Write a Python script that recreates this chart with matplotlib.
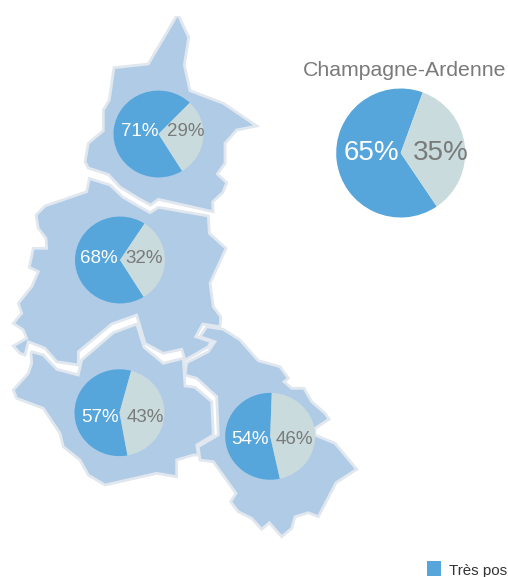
#!/usr/bin/env python
# -*- coding: utf-8 -*-

'''
Champagne-Ardenne map with one pie per departement
'''

import matplotlib
matplotlib.use("Agg")
import matplotlib.pyplot as plt
from matplotlib.patches import Polygon, Rectangle
from matplotlib.transforms import Affine2D

plt.rcParams['font.family'] = ['Liberation Sans', 'DejaVu Sans']

# outlines
ardennes = [(177.7, 14), (188.7, 37.3), (184.3, 65), (190, 90.7), (223.3, 103.3), (256.7, 126),
            (236.7, 130), (225, 143.3), (225, 163.3), (217.3, 174), (226.7, 182.7), (222.7, 192.7),
            (212.7, 201.7), (213, 211.7), (158.3, 199.3), (150.7, 205), (140, 199.3), (120, 187),
            (108.3, 174.5), (88.3, 168), (85, 161.7), (88.3, 143.3), (103.3, 130.7), (103.3, 110),
            (109.3, 100), (114, 67.7), (148.3, 64)]
marne = [(89.3, 178.5), (110, 185), (123.3, 197.5), (150, 212.7), (158.3, 207.3), (208.3, 216),
         (209.3, 233.3), (226, 248.3), (210, 283.3), (213.3, 306.7), (220.7, 316.7), (220, 326.7),
         (202.7, 324), (195.7, 336.7), (211, 341.7), (208.3, 346.7), (185, 360), (181.7, 349.3),
         (163.3, 353.3), (145, 343.3), (136.7, 315), (111.7, 324), (78.3, 351.7), (78.3, 365),
         (56.7, 361.7), (45, 348.3), (28.3, 341.7), (25, 355), (20, 353.3),
         (13.3, 346), (26.7, 338.3), (23.3, 330), (13.3, 323.3), (21.7, 313.3), (18.3, 303.3),
         (31.7, 286.7), (38.3, 271.7), (29.3, 267.3), (33.3, 248.3), (46.7, 248.3), (46, 238.3),
         (38.3, 228.3), (36, 215), (45, 206), (86.7, 191.7)]
aube = [(31.7, 351.7), (43.3, 355), (56.7, 369.3), (78.3, 375), (81.7, 360), (113.3, 332.7),
        (136.7, 324), (144, 347.3), (163.3, 363.3), (183.3, 358.3), (185, 386), (195, 387.3),
        (211.7, 401.7), (213.3, 435), (196.7, 445), (198.3, 455), (193.3, 455), (176.7, 460),
        (176.7, 476.7), (156.7, 473.3), (105, 485), (88.3, 475), (80, 460), (63.3, 446.7),
        (60, 433.3), (43.3, 408.3), (16.7, 398.3), (13.3, 390), (28.3, 373.3), (31.7, 363.3),
        (31, 353)]
haute_marne = [(206.7, 326.7), (223.3, 329.3), (240, 340), (258.3, 360.7), (280, 366.7), (288.3, 378.3),
               (284, 381.7), (291.7, 388.3), (304, 388.3), (311.7, 401.7), (325, 413.3), (329, 419.3),
               (315, 428.3), (315, 435), (335, 443.3), (356.7, 469.3), (336, 482.7), (318.3, 516.7),
               (308.3, 512.7), (295, 516.7), (291.7, 528.3), (281.7, 536.7), (269.3, 522.7),
               (261.7, 529.3), (251.7, 518.3), (238.3, 511.7), (230.7, 501.7), (236, 493.3),
               (213.3, 461.7), (200, 460), (198.3, 446.7), (218.3, 435), (216.7, 396.7), (196.7, 378.3),
               (185, 375), (186.7, 362.7), (208.3, 351.7), (215, 341.7), (200, 336.7)]

# pie values, percent
positive = [71, 68, 57, 54, 65]
negative = [29, 32, 43, 46, 35]

# pie layout, in pixels
start_angles = [46, 57, 75, 88, 70]
centres = [(158.5, 134), (120, 260), (119.5, 412.7), (270.2, 436.3), (400.7, 153)]
radii = [45, 45, 45, 45, 64.5]
squash = [0.965, 0.965, 0.965, 0.965, 1.0]
left_labels = [(139.5, 131.5), (98.5, 258.5), (100, 417.5), (249.5, 439), (371, 153.5)]
right_labels = [(186, 131.5), (144, 258.5), (145.5, 417.5), (294.5, 439), (441, 153.5)]

title = "Champagne-Ardenne"
legend_label = "Très pos"

BLUE = '#56a6dc'
PALE = '#c9dbdd'
GREY = '#7a7a7a'
MAP_FILL = '#b0cbe6'
MAP_EDGE = '#e0e7ef'


def main():
    fig = plt.figure(figsize=(5.08, 5.77), dpi=100)
    ax = fig.add_axes([0, 0, 1, 1])

    clip = Rectangle((0, 16), 508, 561, transform=ax.transData)
    for outline in [ardennes, marne, aube, haute_marne]:
        shape = Polygon(outline, closed=True, facecolor=MAP_FILL, edgecolor=MAP_EDGE,
                        linewidth=2.0, joinstyle='miter', zorder=1)
        ax.add_patch(shape)
        shape.set_clip_path(clip)

    # the y axis runs downwards, so the angles are mirrored
    for i in range(len(positive)):
        wedges, _ = ax.pie([positive[i], negative[i]], colors=[BLUE, PALE], startangle=-start_angles[i],
                           counterclock=False, center=centres[i], radius=radii[i], frame=True,
                           wedgeprops={'linewidth': 0, 'zorder': 3})
        # the small pies are a little flatter than they are wide
        cx, cy = centres[i]
        flatten = Affine2D().translate(-cx, -cy).scale(1, squash[i]).translate(cx, cy)
        for wedge in wedges:
            wedge.set_transform(flatten + ax.transData)
        size = 20 if i == 4 else 13.5
        ax.text(left_labels[i][0], left_labels[i][1], "%d%%" % positive[i], color='white',
                fontsize=size, ha='center', va='center', zorder=4)
        ax.text(right_labels[i][0], right_labels[i][1], "%d%%" % negative[i], color=GREY,
                fontsize=size, ha='center', va='center', zorder=4)

    # pie() changes the aspect, so the pixel frame goes on afterwards
    ax.set_aspect('auto')
    ax.set_xlim(0, 508)
    ax.set_ylim(577, 0)
    ax.axis('off')

    ax.text(404.5, 70, title, color=GREY, fontsize=15.3, ha='center', va='center', zorder=4)

    ax.add_patch(Rectangle((427, 561), 14, 14.5, facecolor=BLUE, edgecolor='none', zorder=4))
    ax.text(449, 574.5, legend_label, color='#333333', fontsize=10.9, ha='left', va='baseline', zorder=4)

    fig.savefig("out.png", dpi=100)


if (__name__ == "__main__"):
    main()
